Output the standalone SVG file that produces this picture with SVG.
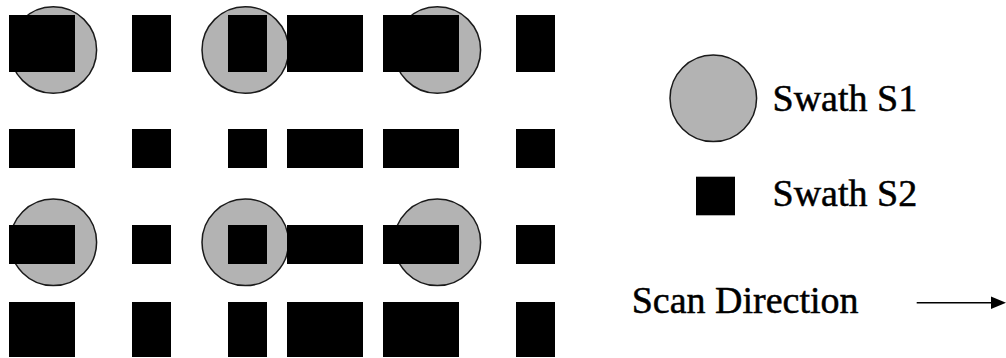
<svg xmlns="http://www.w3.org/2000/svg" width="1006" height="358" viewBox="0 0 1006 358">
<style>
.s1{fill:#b3b3b3;stroke:#1a1a1a;stroke-width:1.5}
.s2{fill:#000}
.t{font-family:"Liberation Serif","Times New Roman",serif;font-size:38px;fill:#000;stroke:#000;stroke-width:0.5}
</style>
<defs>
<marker id="ah" markerWidth="15" markerHeight="13" refX="15" refY="6.5" orient="auto" markerUnits="userSpaceOnUse">
<path d="M0,0 L15,6.5 L0,13 Z" fill="#000"/>
</marker>
</defs>
<rect width="1006" height="358" fill="#fff"/>
<g id="swath-s1">
<circle class="s1" cx="53.3" cy="50" r="43.3"/>
<circle class="s1" cx="245.3" cy="50" r="43.3"/>
<circle class="s1" cx="437.3" cy="50" r="43.3"/>
<circle class="s1" cx="53.3" cy="242.3" r="43.3"/>
<circle class="s1" cx="245.3" cy="242.3" r="43.3"/>
<circle class="s1" cx="437.3" cy="242.3" r="43.3"/>
</g>
<g id="swath-s2">
<rect class="s2" x="9" y="15" width="66" height="57"/>
<rect class="s2" x="132" y="15" width="39" height="57"/>
<rect class="s2" x="228" y="15" width="39" height="57"/>
<rect class="s2" x="287" y="15" width="76" height="57"/>
<rect class="s2" x="383" y="15" width="76" height="57"/>
<rect class="s2" x="516" y="15" width="39" height="57"/>
<rect class="s2" x="9" y="129" width="66" height="39"/>
<rect class="s2" x="132" y="129" width="39" height="39"/>
<rect class="s2" x="228" y="129" width="39" height="39"/>
<rect class="s2" x="287" y="129" width="76" height="39"/>
<rect class="s2" x="383" y="129" width="76" height="39"/>
<rect class="s2" x="516" y="129" width="39" height="39"/>
<rect class="s2" x="9" y="225" width="66" height="39"/>
<rect class="s2" x="132" y="225" width="39" height="39"/>
<rect class="s2" x="228" y="225" width="39" height="39"/>
<rect class="s2" x="287" y="225" width="76" height="39"/>
<rect class="s2" x="383" y="225" width="76" height="39"/>
<rect class="s2" x="516" y="225" width="39" height="39"/>
<rect class="s2" x="9" y="302" width="66" height="55"/>
<rect class="s2" x="132" y="302" width="39" height="55"/>
<rect class="s2" x="228" y="302" width="39" height="55"/>
<rect class="s2" x="287" y="302" width="76" height="55"/>
<rect class="s2" x="383" y="302" width="76" height="55"/>
<rect class="s2" x="516" y="302" width="39" height="55"/>
</g>
<g id="legend-s1">
<circle class="s1" cx="713.3" cy="98.3" r="43.3"/>
<text class="t" x="772.5" y="110.7">Swath S1</text>
</g>
<g id="legend-s2">
<rect class="s2" x="696" y="176.7" width="39" height="38.6"/>
<text class="t" x="772.5" y="206">Swath S2</text>
</g>
<g id="legend-scan">
<text class="t" x="631.7" y="313.3">Scan Direction</text>
</g>
<g id="connectors">
<line x1="916.7" y1="302.7" x2="1000" y2="302.7" stroke="#000" stroke-width="1.5"/>
<path d="M991,296.5 L1006,302.7 L991,309 Z" fill="#000"/>
</g>
</svg>
